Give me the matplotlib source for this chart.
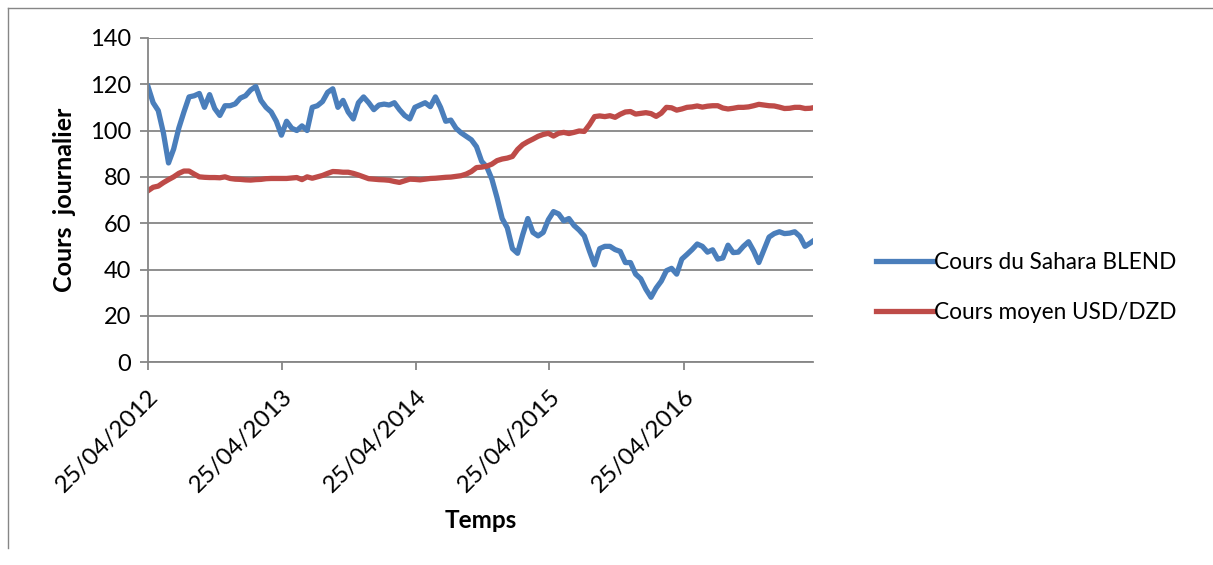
import numpy as np
import pandas as pd
import matplotlib
matplotlib.use("Agg")
import matplotlib.pyplot as plt
import matplotlib.dates as mdates
from matplotlib.lines import Line2D

plt.rcParams['font.family'] = ['Lato', 'DejaVu Sans']

# two-weekly readings from 25/04/2012
dates = pd.date_range('2012-04-25', periods=131, freq='14D')

sahara_blend = [
    119, 112, 108.6, 99, 86, 92, 101, 108, 114.5, 115,
    116, 110, 115.5, 109.5, 106.5, 110.7, 110.7, 111.5, 114, 115,
    117.5, 119, 113, 110, 108, 104, 98, 104, 101, 100,
    102, 100, 110, 110.7, 112.5, 116.5, 118, 110, 113, 108,
    105, 112, 114.5, 112, 109, 111, 111.4, 111, 112, 109,
    106.5, 105, 110, 111, 112, 110.3, 114.5, 110, 104, 104.5,
    101, 99, 97.5, 96, 93, 86.7, 84.3, 79, 71, 62,
    58, 49, 47, 55, 62, 56, 54.5, 56, 61.5, 65,
    64, 61, 62, 59, 57, 54.5, 48, 42, 49, 50,
    50, 48.6, 47.8, 43, 43, 38, 36, 31.5, 28, 32,
    35, 39.5, 40.5, 38, 44.5, 46.5, 48.6, 51, 50, 47.5,
    48.5, 44.5, 45, 50.5, 47.3, 47.5, 50, 52, 48, 43,
    48.5, 54, 55.5, 56.3, 55.5, 55.7, 56.3, 54.3, 50, 51.4,
    53,
]

usd_dzd = [
    74, 75.5, 76, 77.5, 78.8, 80, 81.5, 82.5, 82.5, 81.2,
    80, 79.8, 79.7, 79.7, 79.6, 80, 79.3, 79, 78.9, 78.7,
    78.6, 78.8, 78.9, 79.2, 79.3, 79.3, 79.3, 79.3, 79.5, 79.7,
    78.8, 80, 79.4, 80, 80.6, 81.5, 82.3, 82.2, 82, 82,
    81.5, 80.8, 80, 79.2, 79, 78.8, 78.7, 78.5, 78, 77.6,
    78.3, 79, 78.9, 78.7, 79, 79.3, 79.4, 79.6, 79.8, 79.9,
    80.2, 80.5, 81.2, 82.3, 84, 84.2, 84.6, 85.5, 87, 87.7,
    88.1, 88.8, 91.8, 93.9, 95.2, 96.3, 97.5, 98.3, 98.8, 97.6,
    98.8, 99.2, 98.7, 99.2, 99.8, 99.6, 102.5, 106, 106.3, 106,
    106.4, 105.7, 107, 108, 108.2, 107.1, 107.4, 107.7, 107.3, 106.1,
    107.5, 110, 109.8, 108.8, 109.3, 110, 110.2, 110.6, 110.1, 110.5,
    110.7, 110.7, 109.7, 109.3, 109.6, 110, 110, 110.2, 110.7, 111.3,
    111, 110.7, 110.6, 110.1, 109.5, 109.6, 110, 110, 109.5, 109.6,
    110,
]

tick_dates = pd.to_datetime(['2012-04-25', '2013-04-25', '2014-04-25',
                             '2015-04-25', '2016-04-25'])
labels = ['Cours du Sahara BLEND', 'Cours moyen USD/DZD']
colors = ['#4A7EBB', '#BE4B48']

fig = plt.figure(figsize=(12.13, 5.65), dpi=100)
ax = fig.add_axes([0.122, 0.359, 0.548, 0.574])

ax.plot(dates, sahara_blend, color=colors[0], lw=3.8, solid_joinstyle='round')
ax.plot(dates, usd_dzd, color=colors[1], lw=3.8, solid_joinstyle='round')

ax.set_ylim(0, 140)
ax.set_yticks(np.arange(0, 141, 20))
ax.set_xlim(dates[0], dates[0] + pd.Timedelta(days=1813))
ax.set_xticks(tick_dates)
ax.xaxis.set_major_formatter(mdates.DateFormatter('%d/%m/%Y'))

ax.grid(axis='y', color='#868686', lw=1.3)
ax.set_axisbelow(True)
for s in ['top', 'right']:
    ax.spines[s].set_visible(False)
for s in ['left', 'bottom']:
    ax.spines[s].set_color('#868686')
    ax.spines[s].set_linewidth(1.3)
ax.tick_params(axis='both', colors='#868686', length=6, width=1.3,
               labelcolor='black')
ax.tick_params(axis='y', labelsize=17, pad=6)
ax.tick_params(axis='x', labelsize=17.5, pad=11)
plt.setp(ax.get_xticklabels(), rotation=45, ha='right', rotation_mode='anchor')

ax.set_ylabel('Cours  journalier', fontsize=18, fontweight='bold', labelpad=10)
ax.set_xlabel('Temps', fontsize=17.5, fontweight='bold', labelpad=9)

handles = [Line2D([], [], color=c, lw=3.8) for c in colors]
fig.legend(handles, labels, loc='center left', bbox_to_anchor=(0.705, 0.491),
           frameon=False, fontsize=16.3, handlelength=2.55, handletextpad=0.05,
           labelspacing=1.3)

# outer chart border
fig.add_artist(Line2D([8 / 1213, 8 / 1213], [1 - 548 / 565, 1 - 8 / 565],
                      transform=fig.transFigure, color='#868686', lw=1))
fig.add_artist(Line2D([8 / 1213, 1], [1 - 8 / 565, 1 - 8 / 565],
                      transform=fig.transFigure, color='#868686', lw=1))

fig.savefig('out.png', dpi=100)
